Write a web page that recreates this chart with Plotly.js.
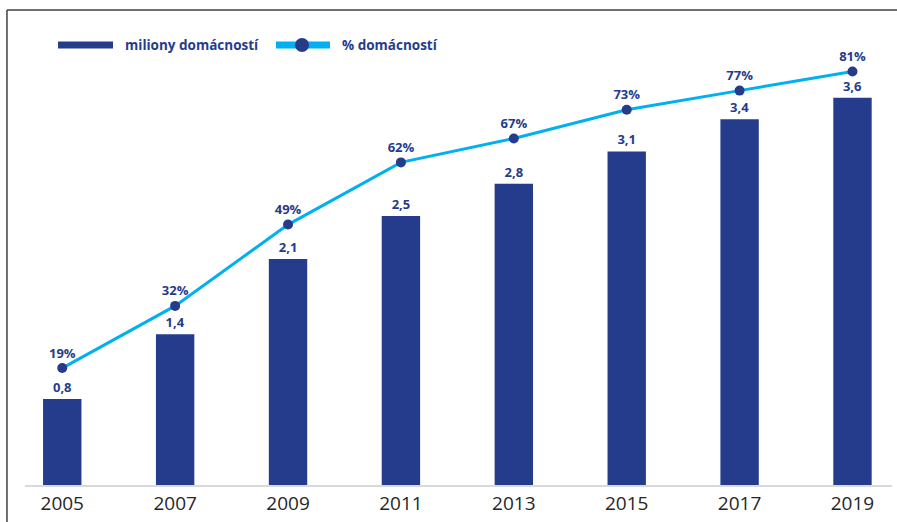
<!DOCTYPE html>
<html>
<head>
<meta charset="utf-8">
<script src="https://cdn.plot.ly/plotly-3.0.1.min.js"></script>
<style>
  html, body { margin: 0; padding: 0; background: #ffffff; }
  #chart { width: 897px; height: 522px; }
</style>
</head>
<body>
<div id="chart"></div>
<script>
// ---- data ----
const years = ['2005', '2007', '2009', '2011', '2013', '2015', '2017', '2019'];
const householdsMillions = [0.8, 1.4, 2.1, 2.5, 2.8, 3.1, 3.4, 3.6];
const householdsPercent = [19, 32, 49, 62, 67, 73, 77, 81];
const seriesNames = ['miliony domácností', '% domácností'];

// ---- styles ----
const darkBlue = '#253c8c';
const lightBlue = '#00b0f0';
const fontFamily = '"Open Sans", "Noto Sans", sans-serif';

const barLabels = householdsMillions.map(v => v.toFixed(1).replace('.', ','));
const pctLabels = householdsPercent.map(v => v + '%');

const traces = [
  {
    type: 'bar',
    x: years,
    y: householdsMillions,
    name: seriesNames[0],
    marker: { color: darkBlue },
    text: barLabels,
    textposition: 'outside',
    cliponaxis: false,
    textfont: { family: fontFamily, size: 13, color: darkBlue, weight: 'bold' },
    hoverinfo: 'x+y'
  },
  {
    type: 'scatter',
    mode: 'lines+markers+text',
    x: years,
    y: householdsPercent,
    yaxis: 'y2',
    name: seriesNames[1],
    line: { color: lightBlue, width: 3 },
    marker: { color: darkBlue, size: 10 },
    text: pctLabels,
    textposition: 'top center',
    cliponaxis: false,
    textfont: { family: fontFamily, size: 13, color: darkBlue, weight: 'bold' }
  }
];

// custom legend (paper coordinates of the plot area)
const legendFont = { family: fontFamily, size: 13.5, color: darkBlue, weight: 'bold' };

const layout = {
  width: 897,
  height: 522,
  margin: { l: 25, r: 5, t: 60, b: 37 },
  paper_bgcolor: '#ffffff',
  plot_bgcolor: '#ffffff',
  font: { family: fontFamily, color: darkBlue },
  bargap: 0.66,
  showlegend: false,
  xaxis: {
    type: 'category',
    range: [-0.33, 7.35],
    showline: true,
    linecolor: '#d9d9d9',
    linewidth: 2,
    ticks: '',
    showgrid: false,
    zeroline: false,
    tickfont: { family: fontFamily, size: 19, color: '#262626' },
    fixedrange: true
  },
  yaxis: {
    range: [0, 3.95],
    visible: false,
    showgrid: false,
    zeroline: false,
    fixedrange: true
  },
  yaxis2: {
    range: [-5.44, 83.4],
    overlaying: 'y',
    side: 'right',
    visible: false,
    showgrid: false,
    zeroline: false,
    fixedrange: true
  },
  shapes: [
    // frame
    { type: 'line', xref: 'paper', yref: 'paper', x0: -0.0208, x1: -0.0208, y0: 1.1176, y1: -0.12,
      line: { color: '#404040', width: 1.5 } },
    { type: 'line', xref: 'paper', yref: 'paper', x0: -0.0208, x1: 1.02, y0: 1.1176, y1: 1.1176,
      line: { color: '#404040', width: 1.5 } },
    // legend symbols
    { type: 'line', xref: 'paper', yref: 'paper', x0: 0.0381, x1: 0.1015, y0: 1.0353, y1: 1.0353,
      line: { color: darkBlue, width: 7 } },
    { type: 'line', xref: 'paper', yref: 'paper', x0: 0.2895, x1: 0.3518, y0: 1.0353, y1: 1.0353,
      line: { color: lightBlue, width: 7 } },
    { type: 'circle', xref: 'paper', yref: 'paper', x0: 0.3114, x1: 0.3276, y0: 1.0188, y1: 1.0518,
      fillcolor: darkBlue, line: { color: darkBlue, width: 0 } }
  ],
  annotations: [
    { xref: 'paper', yref: 'paper', x: 0.1130, y: 1.0353, xanchor: 'left', yanchor: 'middle',
      text: seriesNames[0], showarrow: false, font: legendFont },
    { xref: 'paper', yref: 'paper', x: 0.3633, y: 1.0353, xanchor: 'left', yanchor: 'middle',
      text: seriesNames[1], showarrow: false, font: legendFont }
  ]
};

Plotly.newPlot('chart', traces, layout, { displayModeBar: false, staticPlot: true });
</script>
</body>
</html>
